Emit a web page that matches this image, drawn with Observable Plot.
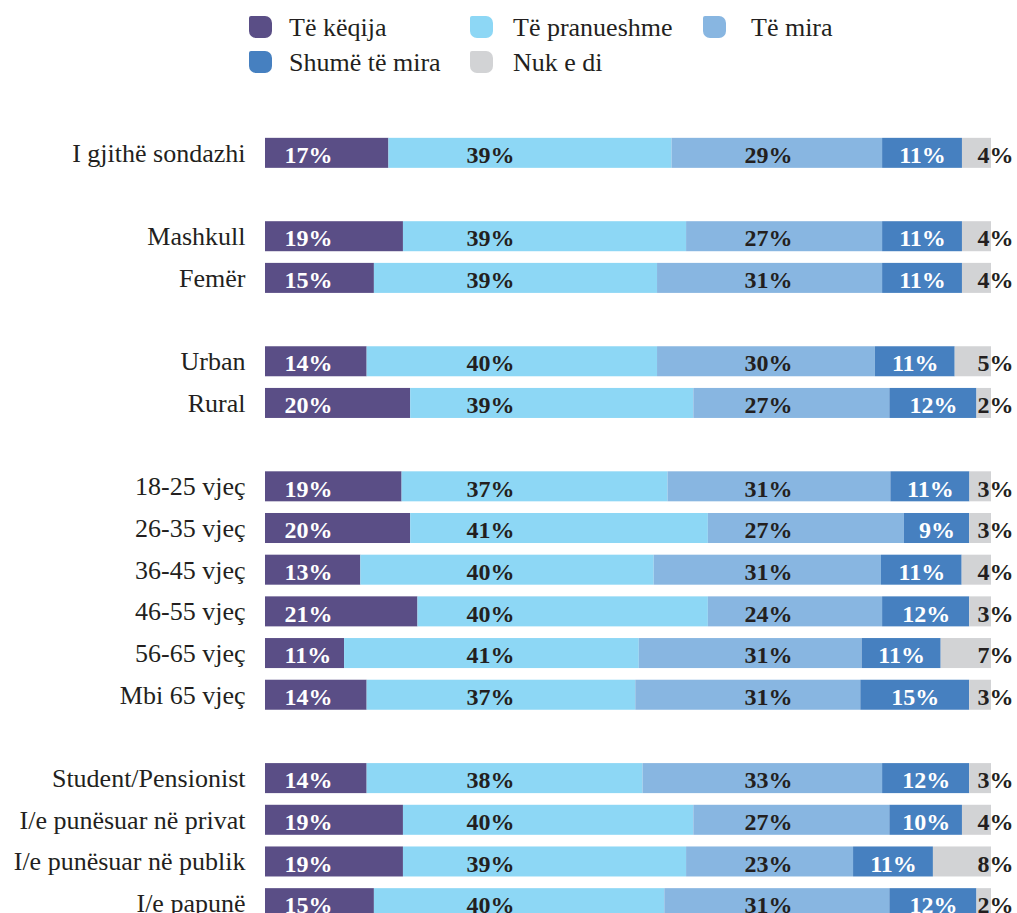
<!DOCTYPE html>
<html>
<head>
<meta charset="utf-8">
<script src="https://cdn.jsdelivr.net/npm/d3@7"></script>
<script src="https://cdn.jsdelivr.net/npm/@observablehq/plot@0.6"></script>
<style>
  html, body { margin: 0; padding: 0; background: #fff; }
  #wrap { position: relative; width: 1017px; }
  #legend { position: relative; width: 1017px; height: 100px; color: #231f20; }
  .sw { position: absolute; width: 23px; height: 22px; border-radius: 2px 7px 7px 7px; }
  .lt { position: absolute; height: 24px; line-height: 24px; white-space: nowrap;
        font-family: 'Liberation Serif', 'DejaVu Serif', serif; font-size: 26px; }
  svg { display: block; }
</style>
</head>
<body>
<div id="wrap">
  <div id="legend"></div>
  <div id="chart"></div>
</div>
<script>
// ---- data ----
const categories = [
  "I gjithë sondazhi",
  "Mashkull", "Femër",
  "Urban", "Rural",
  "18-25 vjeç", "26-35 vjeç", "36-45 vjeç", "46-55 vjeç", "56-65 vjeç", "Mbi 65 vjeç",
  "Student/Pensionist", "I/e punësuar në privat", "I/e punësuar në publik", "I/e papunë"
];
const groupSizes = [1, 2, 2, 6, 4];
const keys = ["Të këqija", "Të pranueshme", "Të mira", "Shumë të mira", "Nuk e di"];
const teKeqija     = [17, 19, 15, 14, 20, 19, 20, 13, 21, 11, 14, 14, 19, 19, 15];
const tePranueshme = [39, 39, 39, 40, 39, 37, 41, 40, 40, 41, 37, 38, 40, 39, 40];
const teMira       = [29, 27, 31, 30, 27, 31, 27, 31, 24, 31, 31, 33, 27, 23, 31];
const shumeTeMira  = [11, 11, 11, 11, 12, 11,  9, 11, 12, 11, 15, 12, 10, 11, 12];
const nukEDi       = [ 4,  4,  4,  5,  2,  3,  3,  4,  3,  7,  3,  3,  4,  8,  2];

// ---- styles ----
const colors = ["#5a4e86", "#8dd7f5", "#88b6e1", "#4680c0", "#d2d3d5"];
const textColors = ["#ffffff", "#231f20", "#231f20", "#ffffff", "#231f20"];
const ink = "#231f20";

// ---- legend (HTML) ----
const legendLayout = [
  {k: 0, sx: 249, tx: 289, top: 16},
  {k: 1, sx: 470, tx: 513, top: 16},
  {k: 2, sx: 703, tx: 751, top: 16},
  {k: 3, sx: 249, tx: 289, top: 51},
  {k: 4, sx: 470, tx: 513, top: 51}
];
const legend = d3.select("#legend");
for (const it of legendLayout) {
  legend.append("div").attr("class", "sw")
    .style("left", it.sx + "px").style("top", it.top + "px")
    .style("background", colors[it.k]);
  legend.append("div").attr("class", "lt")
    .style("left", it.tx + "px").style("top", it.top + "px")
    .style("font-family", "'Liberation Serif', serif")
    .text(keys[it.k]);
}

// ---- build table ----
const series = [teKeqija, tePranueshme, teMira, shumeTeMira, nukEDi];
const rows = [];
categories.forEach((cat, i) => {
  const vals = series.map(s => s[i]);
  const total = d3.sum(vals);
  let acc = 0;
  vals.forEach((v, k) => {
    const x1 = acc / total;
    acc += v;
    const x2 = acc / total;
    rows.push({cat, k, key: keys[k], value: v, x1, x2, mid: (x1 + x2) / 2});
  });
});

// y domain with a blank spacer row between groups
const yDomain = [];
let idx = 0;
groupSizes.forEach((n, g) => {
  for (let j = 0; j < n; j++) yDomain.push(categories[idx++]);
  if (g < groupSizes.length - 1) yDomain.push(" ".repeat(g + 1));
});

const labelFont = "Liberation Serif, serif";
const pct = {dy: 2, fontSize: 24, fontWeight: "bold"};

const plot = Plot.plot({
  width: 1017,
  height: 850,
  marginTop: 32,
  marginBottom: 26,
  marginLeft: 265,
  marginRight: 26,
  style: {fontFamily: labelFont, background: "transparent"},
  x: {domain: [0, 1], axis: null},
  y: {domain: yDomain, paddingInner: 0.28, paddingOuter: 0.14, axis: null, round: false},
  color: {domain: keys, range: colors},
  marks: [
    Plot.barX(rows, {y: "cat", x1: "x1", x2: "x2", fill: "key"}),
    // category labels
    Plot.text(categories, {y: d => d, text: d => d, frameAnchor: "left", textAnchor: "end",
      dx: -20, fontSize: 26, fill: ink}),
    // first segment: start-anchored near bar start
    Plot.text(rows.filter(d => d.k === 0), {...pct, y: "cat", text: d => d.value + "%", frameAnchor: "left",
      textAnchor: "start", dx: 19, fill: textColors[0]}),
    // second and third segments: labels in fixed columns
    Plot.text(rows.filter(d => d.k === 1), {...pct, y: "cat", x: () => 0.31, text: d => d.value + "%",
      fill: textColors[1]}),
    Plot.text(rows.filter(d => d.k === 2), {...pct, y: "cat", x: () => 0.693, text: d => d.value + "%",
      fill: textColors[2]}),
    // fourth segment: centred
    Plot.text(rows.filter(d => d.k === 3), {...pct, y: "cat", x: "mid", text: d => d.value + "%",
      fill: textColors[3]}),
    // last segment: end-anchored past the bar end
    Plot.text(rows.filter(d => d.k === 4), {...pct, y: "cat", text: d => d.value + "%", frameAnchor: "right",
      textAnchor: "end", dx: 22, fill: textColors[4]})
  ]
});
document.getElementById("chart").appendChild(plot);
</script>
</body>
</html>
